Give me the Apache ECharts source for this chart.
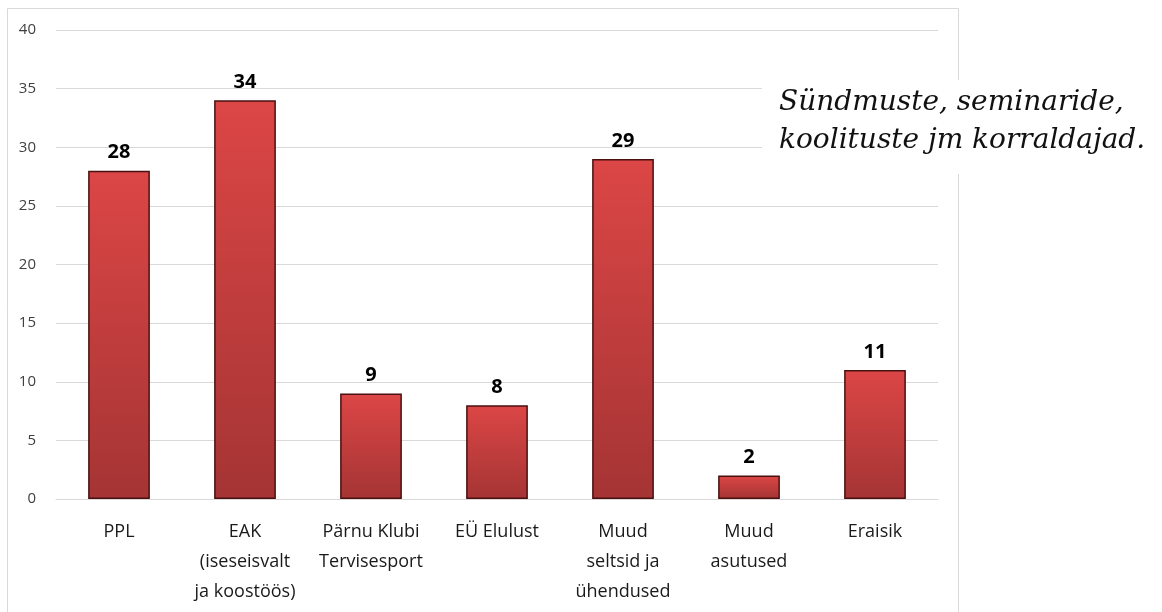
<!DOCTYPE html>
<html>
<head>
<meta charset="utf-8">
<script src="https://cdn.jsdelivr.net/npm/echarts@6/dist/echarts.min.js"></script>
<style>
  html, body { margin: 0; padding: 0; background: #fff; }
  #main { width: 1162px; height: 612px; }
</style>
</head>
<body>
<div id="main"></div>
<script>
var categories = ['PPL', 'EAK\n(iseseisvalt\nja koostöös)', 'Pärnu Klubi\nTervisesport', 'EÜ Elulust',
  'Muud\nseltsid ja\nühendused', 'Muud\nasutused', 'Eraisik'];
var values = [28, 34, 9, 8, 29, 2, 11];
var titleLines = ['Sündmuste, seminaride,', 'koolituste jm korraldajad.'];

var chart = echarts.init(document.getElementById('main'));
chart.setOption({
  animation: false,
  grid: { left: 56, right: 224, top: 30, bottom: 113 },
  xAxis: {
    type: 'category',
    data: categories,
    axisLine: { lineStyle: { color: '#d9d9d9' } },
    axisTick: { show: false },
    axisLabel: {
      color: '#1a1a1a', fontSize: 18, lineHeight: 30, margin: 18,
      fontFamily: 'Open Sans', interval: 0
    }
  },
  yAxis: {
    type: 'value', min: 0, max: 40, interval: 5,
    axisLine: { show: false },
    axisTick: { show: false },
    splitLine: { lineStyle: { color: '#d9d9d9' } },
    axisLabel: { color: '#404040', fontSize: 15, margin: 20, fontFamily: 'Open Sans' }
  },
  series: [{
    type: 'bar',
    data: values,
    barWidth: '49%',
    itemStyle: {
      color: new echarts.graphic.LinearGradient(0, 0, 0, 1, [
        { offset: 0, color: '#dc4646' },
        { offset: 1, color: '#a53434' }
      ]),
      borderColor: '#4a1010',
      borderWidth: 1.5
    },
    label: {
      show: true, position: 'top', distance: 8,
      color: '#000', fontSize: 20, fontWeight: 'bold', fontFamily: 'Open Sans'
    }
  }],
  graphic: [
    {
      type: 'rect', z: -1,
      shape: { x: 7.5, y: 8.5, width: 951, height: 620 },
      style: { fill: null, stroke: '#d9d9d9', lineWidth: 1 }
    },
    {
      type: 'text', left: 762, top: 80, z: 10,
      style: {
        text: titleLines.join('\n'),
        font: 'italic 28px "DejaVu Serif"',
        lineHeight: 38,
        fill: '#111',
        backgroundColor: '#fff',
        padding: [4, 4, 14, 17]
      }
    }
  ]
});
</script>
</body>
</html>
